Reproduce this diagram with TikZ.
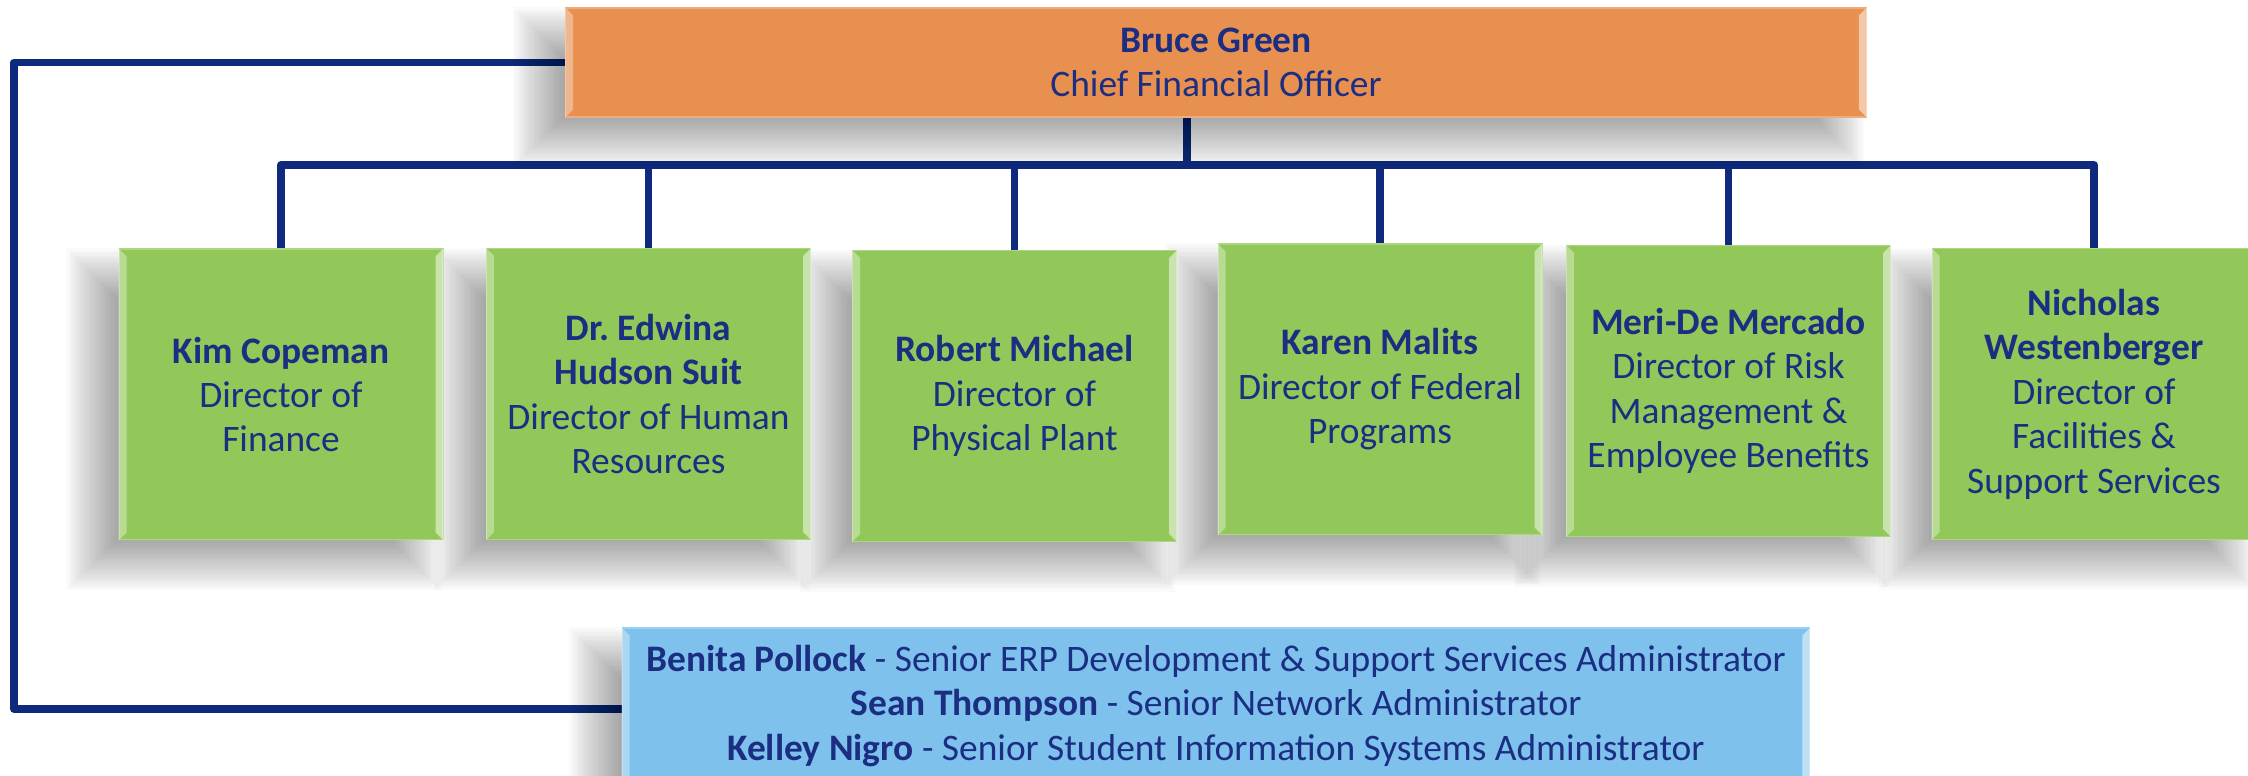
\documentclass[tikz,border=0pt]{standalone}
\usepackage{fontspec}
\setmainfont{Carlito}
\usepackage{xcolor}
\usetikzlibrary{backgrounds}

\pgfdeclarelayer{shadow}
\pgfsetlayers{background,shadow,main}

\definecolor{cfoorange}{RGB}{232,144,80}
\definecolor{dirgreen}{RGB}{146,200,90}
\definecolor{adminblue}{RGB}{125,193,236}
\definecolor{navytext}{RGB}{27,46,130}
\definecolor{navyline}{RGB}{15,42,124}

\begin{document}
\begin{tikzpicture}[x=0.02cm, y=-0.02cm,
    box/.style={rectangle, fill=#1, draw=#1!75!white, line width=0.6pt,
        align=center, text=navytext, inner sep=0pt,
        font=\fontsize{21.3}{25.3}\selectfont},
    director/.style={box=dirgreen, minimum width=6.48cm, minimum height=5.82cm},
    bevel/.style={fill=white, opacity=#1},
    link/.style={draw=navyline, line width=4.4pt, line join=round}]

\useasboundingbox (0,0) rectangle (2248,776);

% CFO
\node[box=cfoorange, minimum width=26.02cm, minimum height=2.18cm] (cfo) at (1216,62.5)
    {\textbf{Bruce Green}\\Chief Financial Officer};

% directors
\node[director] (kim)    at (281,394.5)  {\textbf{Kim Copeman}\\Director of\\Finance};
\node[director] (edwina) at (648.5,394)  {\textbf{Dr.\ Edwina}\\\textbf{Hudson Suit}\\Director of Human\\Resources};
\node[director] (robert) at (1014.5,396) {\textbf{Robert Michael}\\Director of\\Physical Plant};
\node[director] (karen)  at (1380,389.5) {\textbf{Karen Malits}\\Director of Federal\\Programs};
\node[director] (meri)   at (1728.5,391) {\textbf{Meri-De Mercado}\\Director of Risk\\Management \&\\Employee Benefits};
\node[director] (nick)   at (2094,394)   {\textbf{Nicholas}\\\textbf{Westenberger}\\Director of\\Facilities \&\\Support Services};

% administrators
\node[box=adminblue, minimum width=23.76cm, minimum height=3.12cm] (admins) at (1216,706)
    {\textbf{Benita Pollock} - Senior ERP Development \& Support Services Administrator\\
     \textbf{Sean Thompson} - Senior Network Administrator\\
     \textbf{Kelley Nigro} - Senior Student Information Systems Administrator};

% bevel edges
\foreach \n in {cfo,kim,edwina,robert,karen,meri,nick,admins} {
    \path[bevel=.35] (\n.north west) -- ++(0.16cm,-0.16cm)
        -- ([shift={(0.16cm,0.16cm)}]\n.south west) -- (\n.south west) -- cycle;
    \path[bevel=.5] (\n.north east) -- ++(-0.16cm,-0.16cm)
        -- ([shift={(-0.16cm,0.16cm)}]\n.south east) -- (\n.south east) -- cycle;
}

% soft shadows, down and to the left
\begin{pgfonlayer}{shadow}
\foreach \n in {cfo,kim,edwina,robert,karen,meri,nick,admins}
    \foreach \k in {0,...,20}
        \fill[black, opacity=0.018]
            ([xshift={-1.05cm+\k*0.5mm}, yshift={-1cm+\k*0.5mm}]\n.south west) rectangle
            ([xshift={-0.05cm-\k*0.5mm}, yshift={0cm-\k*0.5mm}]\n.north east);
\end{pgfonlayer}

\coordinate (bar) at (0,165);
\coordinate (rail) at (14,0);

\begin{pgfonlayer}{background}
    \draw[link] ([xshift=-0.58cm]cfo.south) -- ([xshift=-0.58cm]cfo.south |- bar);
    \draw[link] (kim.north) -- (kim.north |- bar) -- (nick.north |- bar) -- (nick.north);
    \foreach \n in {edwina,robert,karen,meri}
        \draw[link] (\n.north) -- (\n.north |- bar);
    % loop to the admins
    \draw[link] (cfo.west) -- (cfo.west -| rail) -- ([yshift=-0.06cm]admins.west -| rail)
        -- ([yshift=-0.06cm]admins.west);
\end{pgfonlayer}
\end{tikzpicture}
\end{document}
